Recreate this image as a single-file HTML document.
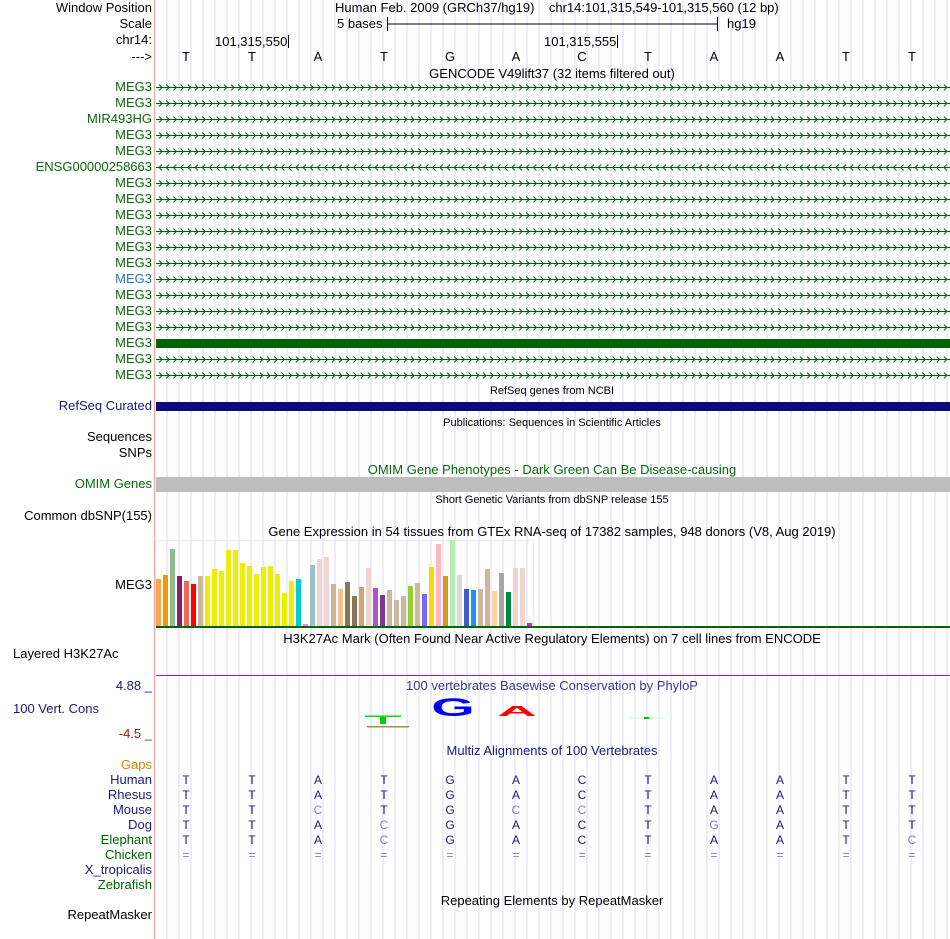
<!DOCTYPE html>
<html><head><meta charset="utf-8"><style>
body{margin:0;background:#fff;width:950px;height:939px;overflow:hidden;position:relative;font-family:"Liberation Sans",sans-serif;font-size:13px}
.t{position:absolute;white-space:nowrap;line-height:14px}
.l{position:absolute;right:798px;white-space:nowrap;line-height:14px;text-align:right}
.c{position:absolute;white-space:nowrap;line-height:14px;transform:translateX(-50%)}
</style></head><body>
<svg id="bg" width="950" height="939" style="position:absolute;left:0;top:0"></svg>
<div id="txt"></div>
<script>
const NS='http://www.w3.org/2000/svg';
const svg=document.getElementById('bg');
const txt=document.getElementById('txt');
function el(tag,attrs){const e=document.createElementNS(NS,tag);for(const k in attrs)e.setAttribute(k,attrs[k]);svg.appendChild(e);return e;}
function label(cls,x,y,s,color,name,extra){const d=document.createElement('div');d.className=cls;if(cls!=='l')d.style.left=x+'px';d.style.top=(y-7)+'px';d.textContent=s;if(color)d.style.color=color;if(extra)Object.assign(d.style,extra);


txt.appendChild(d);return d;}
// grid
for(let x=167;x<950;x+=12){const g=el('line',{x1:x,y1:0,x2:x,y2:939,stroke:'#d8d8f4','stroke-width':1});

}
const rl=el('line',{x1:154.5,y1:0,x2:154.5,y2:939,stroke:'#f4a0a0','stroke-width':1});


// header
label('l',0,8,'Window Position',null,'window-position-label');
label('l',0,24,'Scale',null,'scale-label');
label('l',0,40,'chr14:',null,'chr-label');
label('l',0,57,'--->',null,'strand-label');
label('t',335,8,'Human Feb. 2009 (GRCh37/hg19)    chr14:101,315,549-101,315,560 (12 bp)',null,'window-position',{whiteSpace:'pre'});
label('t',337,24,'5 bases',null,'scale-text');
label('t',727,24,'hg19',null,'assembly-text');
let s=el('path',{d:'M387.5 17V31M387.5 24H717.5M717.5 17V31',stroke:'#000',fill:'none'});


label('t',215,42,'101,315,550',null,'pos-label-1');
label('t',544,42,'101,315,555',null,'pos-label-2');
s=el('path',{d:'M288.5 35V48M617.5 35V48',stroke:'#000'});


const bases=['T','T','A','T','G','A','C','T','A','A','T','T'];
bases.forEach((b,i)=>label('c',186+66*i,57,b,null,'base-'+(i+1)));
label('c',552,74,'GENCODE V49lift37 (32 items filtered out)',null,'gencode-title');
// gencode rows
const genes=['MEG3','MEG3','MIR493HG','MEG3','MEG3','ENSG00000258663','MEG3','MEG3','MEG3','MEG3','MEG3','MEG3','MEG3','MEG3','MEG3','MEG3','MEG3','MEG3','MEG3'];
genes.forEach((g,i)=>{const y=87+16*i;
label('l',0,y,g,i===12?'#2a7ab8':'#0a6a0a','gene-label-'+(i+1));
if(i===16){const r=el('rect',{x:156,y:y-4,width:794,height:9,fill:'#006400'});

return;}
const ln=el('line',{x1:156,y1:y+0.5,x2:950,y2:y+0.5,stroke:'#006400'});


let d='';const rev=g.startsWith('ENSG');
for(let x=159;x<948;x+=7.2){d+=rev?`M${x+3} ${y-2.5}L${x} ${y+0.5}L${x+3} ${y+3.5}`:`M${x} ${y-2.5}L${x+3} ${y+0.5}L${x} ${y+3.5}`;}
const a=el('path',{d:d,stroke:'#006400',fill:'none','stroke-width':1});

});
label('c',552,391,'RefSeq genes from NCBI',null,'refseq-title',{fontSize:'11px'});
label('l',0,406,'RefSeq Curated','#1a1a80','refseq-label');
let r=el('rect',{x:156,y:402,width:794,height:9,fill:'#0c0c78'});


label('c',552,423,'Publications: Sequences in Scientific Articles',null,'publications-title',{fontSize:'11px'});
label('l',0,437,'Sequences',null,'sequences-label');
label('l',0,453,'SNPs',null,'snps-label');
label('c',552,470,'OMIM Gene Phenotypes - Dark Green Can Be Disease-causing','#0a6a0a','omim-title');
label('l',0,484,'OMIM Genes','#0a6a0a','omim-label');
r=el('rect',{x:156,y:477,width:794,height:15,fill:'#bebebe'});


label('c',552,500,'Short Genetic Variants from dbSNP release 155',null,'dbsnp-title',{fontSize:'11px'});
label('l',0,516,'Common dbSNP(155)',null,'dbsnp-label');
label('c',552,532,'Gene Expression in 54 tissues from GTEx RNA-seq of 17382 samples, 948 donors (V8, Aug 2019)',null,'gtex-title');
label('l',0,585,'MEG3',null,'gtex-gene-label');
</script>
<script>
// GTEx chart data
const gtexValues=[47,51,77,50,45,42,50,50,57,55,76,76,63,60,52,59,60,52,33,45,47,2,61,67,69,42,37,44,30,39,58,38,31,36,26,30,40,43,32,59,82,50,86,51,37,36,37,57,35,53,34,58,58,3];
const gtexColors=['#ffa54f','#ee9a00','#8fbc8f','#8b1c62','#ee6a50','#ff0000','#cdb79e','#eeee00','#eeee00','#eeee00','#eeee00','#eeee00','#eeee00','#eeee00','#eeee00','#eeee00','#eeee00','#eeee00','#eeee00','#eeee00','#00ced1','#ff82ff','#9ac0cd','#eed5d2','#eed5d2','#cdb79e','#f4c18a','#8b7355','#8b7355','#cda577','#eed5d2','#b452cd','#7a378b','#cdb79e','#cdb79e','#cdb79e','#9acd32','#cdb79e','#7b68ee','#ffd700','#ffb6c1','#cd9b1d','#b4eeb4','#d9d9d9','#3a5fcd','#1e90ff','#cdb79e','#cdb79e','#ffd39b','#a6a6a6','#008b45','#eed5d2','#eed5d2','#ff00ff'];
const yScale=v=>626-v;const xScale=i=>156+7*i;
const frame=el('rect',{x:155.5,y:540.5,width:378,height:86,fill:'none',stroke:'#eeeeee'});


gtexValues.forEach((v,i)=>{const b=el('rect',{x:xScale(i),y:yScale(v),width:5,height:v,fill:gtexColors[i]});

});
r=el('rect',{x:156,y:626,width:794,height:2,fill:'#006400'});


label('c',552,639,'H3K27Ac Mark (Often Found Near Active Regulatory Elements) on 7 cell lines from ENCODE',null,'h3k27ac-title');
label('t',13,654,'Layered H3K27Ac',null,'h3k27ac-label');
r=el('line',{x1:156,y1:675.5,x2:950,y2:675.5,stroke:'#c0147a'});


label('l',0,686,'4.88 _','#1a1a80','cons-max-label');
label('t',13,709,'100 Vert. Cons','#1a1a80','cons-label');
label('l',0,734,'-4.5 _','#8b1a1a','cons-min-label');
label('c',552,686,'100 vertebrates Basewise Conservation by PhyloP','#3a3a9a','phylop-title');
// logo
r=el('rect',{x:365,y:715.5,width:36,height:1.5,fill:'#00e000'});
r=el('rect',{x:380,y:717,width:6,height:7,fill:'#00d000'});
r=el('rect',{x:367,y:726,width:42,height:1.5,fill:'#a09040'});
r=el('text',{x:453,y:716,'font-family':'Liberation Sans,sans-serif','font-size':'26','font-weight':'bold',fill:'#0000ff','text-anchor':'middle',transform:'translate(453 716) scale(2.15 0.95) translate(-453 -716)'});r.textContent='G';
r=el('text',{x:517,y:716,'font-family':'Liberation Sans,sans-serif','font-size':'16','font-weight':'bold',fill:'#ff0000','text-anchor':'middle',transform:'translate(517 716) scale(3.4 0.95) translate(-517 -716)'});r.textContent='A';
r=el('line',{x1:629,y1:718,x2:665,y2:718,stroke:'#c0ffc0'});
r=el('rect',{x:644,y:717,width:5,height:2,fill:'#00c000'});
label('c',552,751,'Multiz Alignments of 100 Vertebrates','#1a1a80','multiz-title');
label('l',0,765,'Gaps','#e08000','gaps-label');
const species=['Human','Rhesus','Mouse','Dog','Elephant','Chicken','X_tropicalis','Zebrafish'];
const spColors=['#1a1a80','#1a1a80','#1a1a80','#1a1a80','#006400','#006400','#1a1a80','#006400'];
const aln=['TTATGACTAATT','TTATGACTAATT','TTcTGccTAATT','TTAcGACTgATT','TTAcGACTAATc','============','',''];
species.forEach((sp,j)=>{const y=780+15*j;label('l',0,y,sp,spColors[j],'species-'+sp.toLowerCase());
const seq=aln[j];for(let i=0;i<seq.length;i++){const ch=seq[i];const low=ch!==ch.toUpperCase()||ch==='=';
label('c',186+66*i,y,ch==='='?'=':ch.toUpperCase(),low?'#8080c0':'#1a1a80','aln-'+sp.toLowerCase()+'-'+(i+1),{fontSize:'12px'});}});
label('c',552,901,'Repeating Elements by RepeatMasker',null,'rmsk-title');
label('l',0,915,'RepeatMasker',null,'rmsk-label');
</script>
</body></html>
